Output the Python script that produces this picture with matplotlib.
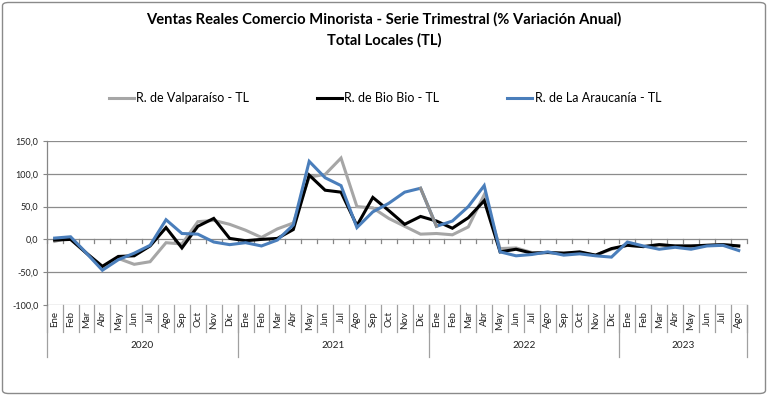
import matplotlib
matplotlib.use("Agg")
import matplotlib.pyplot as plt
from matplotlib.patches import FancyBboxPatch
from matplotlib.transforms import blended_transform_factory
import numpy as np

plt.rcParams['font.family'] = ['Lato', 'DejaVu Sans']

title1 = "Ventas Reales Comercio Minorista - Serie Trimestral (% Variación Anual)"
title2 = "Total Locales (TL)"

months = ["Ene", "Feb", "Mar", "Abr", "May", "Jun", "Jul", "Ago", "Sep", "Oct", "Nov", "Dic"] * 3 + \
         ["Ene", "Feb", "Mar", "Abr", "May", "Jun", "Jul", "Ago"]
years = ["2020", "2021", "2022", "2023"]
year_counts = [12, 12, 12, 8]

series_names = ["R. de Valparaíso - TL", "R. de Bio Bio - TL", "R. de La Araucanía - TL"]

valparaiso = [-3, 3, -21, -44, -29, -38, -34, -5, -7, 27, 29, 23,
              14, 3, 16, 25, 95, 99, 124, 50, 48, 32, 20, 8,
              9, 7, 19, 68, -14, -13, -20, -20, -21, -20, -24, -15,
              -9, -11, -8, -10, -10, -9, -8, -10]
biobio = [-1, 0, -21, -41, -26, -25, -10, 18, -13, 20, 32, 1.5,
          -2, 0, 1.5, 15, 98, 75, 72, 21, 64, 44, 23, 35,
          28, 17, 33, 59, -19, -15, -21, -20, -21, -19, -24, -14,
          -9, -11, -8, -10, -10, -9, -8, -10]
araucania = [2, 4, -21, -47, -31, -21, -9, 30, 9, 8, -4, -8,
             -5, -10, -1, 22, 119, 94, 82, 18, 42, 55, 72, 78,
             20, 28, 50, 82, -19, -25, -23, -19, -24, -22, -25, -27,
             -4, -10, -15, -12, -15, -10, -9, -17]

yticks = [-100, -50, 0, 50, 100, 150]

colors = ["#A6A6A6", "#000000", "#4A7EBB"]
seg_color = "#8E8E8E"

W, H = 768, 396
fig = plt.figure(figsize=(W / 100, H / 100), dpi=100)
fig.patch.set_facecolor("white")

# chart border
border = FancyBboxPatch((2.5 / W, 2.5 / H), (W - 5) / W, (H - 5) / H,
                        boxstyle="round,pad=0,rounding_size=0.008",
                        transform=fig.transFigure, fill=False,
                        edgecolor="#8A8A8A", linewidth=1.0)
fig.patches.append(border)

left, right, top, bottom = 46.7, 746.7, 141, 305
ax = fig.add_axes([left / W, 1 - bottom / H, (right - left) / W, (bottom - top) / H])

n = len(months)
x = np.arange(n)
lw = 2.2
ax.plot(x, valparaiso, color=colors[0], lw=lw, label=series_names[0], solid_joinstyle="miter", zorder=3)
ax.plot(x, biobio, color=colors[1], lw=lw, label=series_names[1], solid_joinstyle="miter", zorder=4)
ax.plot(x, araucania, color=colors[2], lw=lw, label=series_names[2], solid_joinstyle="miter", zorder=5)
# one differently formatted segment of the Araucanía series (Dic 2021 -> Ene 2022)
ax.plot(x[23:25], araucania[23:25], color=seg_color, lw=lw, zorder=6)

ax.set_xlim(-0.5, n - 0.5)
ax.set_ylim(min(yticks), max(yticks))
ax.set_yticks(yticks)
ax.set_yticklabels([f"{v:.1f}".replace(".", ",") for v in yticks], fontsize=6.5, color="#222222")
ax.tick_params(axis="y", length=3, width=0.8, color="#868686", pad=3)
ax.set_xticks([])
for s in ["top", "right", "bottom"]:
    ax.spines[s].set_visible(False)
ax.spines["left"].set_color("#868686")
ax.spines["left"].set_linewidth(0.9)
ax.grid(axis="y", color="#8C8C8C", linewidth=0.9)
ax.set_axisbelow(True)

# zero-line tick marks
bounds = np.arange(n + 1) - 0.5
for b in bounds:
    ax.plot([b, b], [0, -6], color="#868686", lw=0.9, zorder=2, clip_on=False)

trans = blended_transform_factory(ax.transData, ax.transAxes)
ph = bottom - top
# month labels and separators
for i, m in enumerate(months):
    ax.text(i, -6 / ph, m, rotation=90, ha="center", va="top", fontsize=7,
            color="#222222", transform=trans)
for b in bounds:
    ax.plot([b, b], [0, -26.7 / ph], color="#A0A0A0", lw=0.9, transform=trans, clip_on=False)
# year labels and separators
start = 0
ybounds = [-0.5]
for yr, c in zip(years, year_counts):
    ax.text(start + (c - 1) / 2, -41 / ph, yr, ha="center", va="center", fontsize=7.2,
            color="#222222", transform=trans)
    start += c
    ybounds.append(start - 0.5)
for b in ybounds:
    ax.plot([b, b], [0, -51.7 / ph], color="#A0A0A0", lw=0.9, transform=trans, clip_on=False)

fig.text(0.5, 1 - 19 / H, title1, ha="center", va="center", fontsize=10.6, fontweight="bold")
fig.text(0.5, 1 - 40 / H, title2, ha="center", va="center", fontsize=10.6, fontweight="bold")

fig.legend(loc="center", bbox_to_anchor=(385 / W, 1 - 98 / H), ncol=3, frameon=False,
           fontsize=9, handlelength=2.0, handletextpad=0.2, columnspacing=5.4)

fig.savefig("out.png", dpi=100, facecolor="white")
